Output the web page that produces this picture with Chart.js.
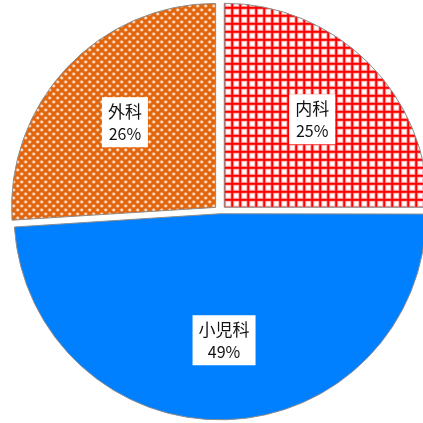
<!DOCTYPE html>
<html>
<head>
<meta charset="utf-8">
<script src="https://cdn.jsdelivr.net/npm/chart.js@4"></script>
<style>
  html, body { margin: 0; padding: 0; overflow: hidden; background: #fff; }
  #wrap { width: 440px; height: 423px; }
</style>
</head>
<body>
<div id="wrap"><canvas id="myPieChart"></canvas></div>
<script>
const categories = ['内科', '小児科', '外科'];
const values = [25, 49, 26];
// Chart.js v4 moves a slice by about offset/4 (more for wide slices)
const sliceOffsets = [24, 9, 24];

// red grid tile
function gridPattern() {
    const c = document.createElement('canvas');
    c.width = 8; c.height = 8;
    const g = c.getContext('2d');
    g.fillStyle = '#ffffff';
    g.fillRect(0, 0, 8, 8);
    g.fillStyle = 'rgb(255,175,175)';
    g.fillRect(2, 0, 4, 8);
    g.fillRect(0, 2, 8, 4);
    g.fillStyle = '#ff0000';
    g.fillRect(3, 0, 2, 8);
    g.fillRect(0, 3, 8, 2);
    return g.createPattern(c, 'repeat');
}

// orange with white dots
function dotPattern() {
    const c = document.createElement('canvas');
    c.width = 8; c.height = 8;
    const g = c.getContext('2d');
    g.fillStyle = '#e2650a';
    g.fillRect(0, 0, 8, 8);
    [[1, 1], [5, 5]].forEach(([x, y]) => {
        g.fillStyle = 'rgb(236,145,85)';
        g.fillRect(x - 1, y, 4, 2);
        g.fillRect(x, y - 1, 2, 4);
        g.fillStyle = 'rgb(255,235,220)';
        g.fillRect(x, y, 2, 2);
    });
    return g.createPattern(c, 'repeat');
}

const labelBoxes = {
    id: 'labelBoxes',
    afterDatasetsDraw(chart) {
        const ctx = chart.ctx;
        const meta = chart.getDatasetMeta(0);
        const total = values.reduce((a, b) => a + b, 0);
        meta.data.forEach((arc, i) => {
            const p = arc.getProps(['x', 'y', 'startAngle', 'endAngle', 'outerRadius', 'circumference'], true);
            const mid = (p.startAngle + p.endAngle) / 2;
            // same shift the arc element applies when drawing
            const fix = 1 - Math.sin(Math.min(Math.PI, p.circumference || 0));
            const shift = sliceOffsets[i] / 4 * (1 + fix);
            const r = p.outerRadius * 0.61 + shift;
            const cx = p.x + Math.cos(mid) * r;
            const cy = p.y + Math.sin(mid) * r;
            const name = categories[i];
            const pct = Math.round(values[i] / total * 100) + '%';
            ctx.save();
            ctx.font = '17px "Noto Sans CJK JP"';
            const w1 = ctx.measureText(name).width;
            ctx.font = '16px "Noto Sans CJK JP"';
            const w2 = ctx.measureText(pct).width;
            const w = Math.max(w1, w2) + 12;
            const h = 50;
            ctx.fillStyle = '#ffffff';
            ctx.fillRect(cx - w / 2, cy - h / 2, w, h);
            ctx.fillStyle = '#111111';
            ctx.textAlign = 'center';
            ctx.textBaseline = 'middle';
            ctx.font = '17px "Noto Sans CJK JP"';
            ctx.fillText(name, cx, cy - 11);
            ctx.font = '16px "Noto Sans CJK JP"';
            ctx.fillText(pct, cx, cy + 12);
            ctx.restore();
        });
    }
};

const ctx = document.getElementById('myPieChart').getContext('2d');
const myPieChart = new Chart(ctx, {
    type: 'pie',
    data: {
        labels: categories,
        datasets: [{
            data: values,
            backgroundColor: [gridPattern(), '#0080ff', dotPattern()],
            borderColor: '#8c8c8c',
            borderWidth: 1,
            offset: sliceOffsets
        }]
    },
    options: {
        responsive: true,
        maintainAspectRatio: false,
        animation: false,
        radius: 204,
        plugins: {
            legend: { display: false },
            tooltip: { enabled: false }
        }
    },
    plugins: [labelBoxes]
});
</script>
</body>
</html>
